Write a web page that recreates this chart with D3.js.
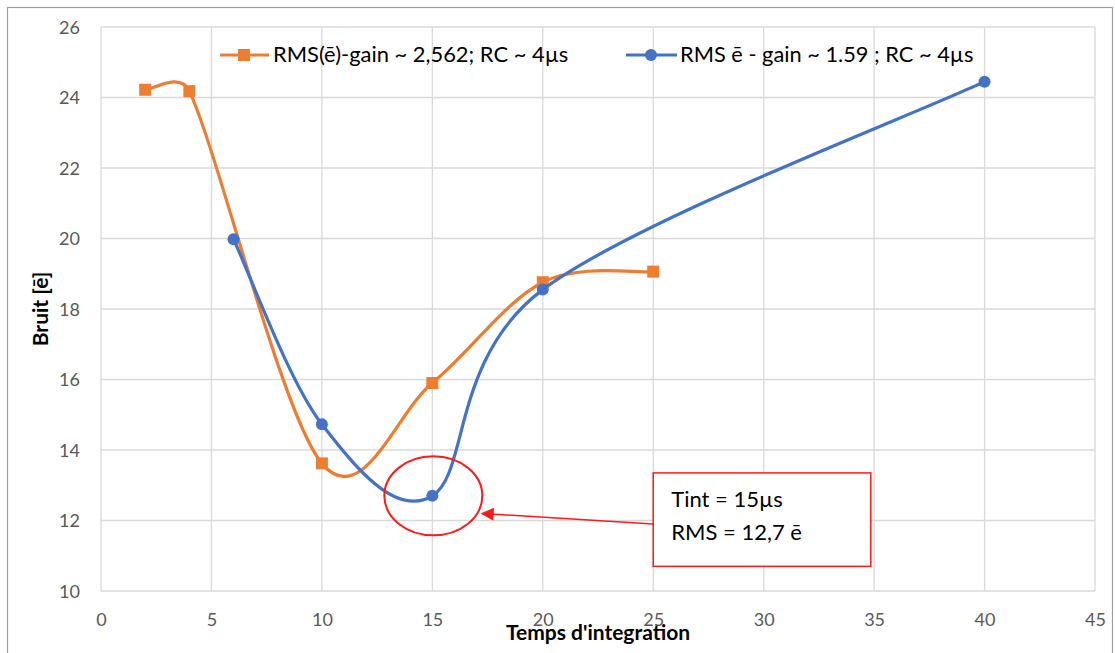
<!DOCTYPE html>
<html><head><meta charset="utf-8">
<script src="https://cdn.jsdelivr.net/npm/d3@7"></script>
<style>body{margin:0;background:#fff;} svg{display:block;font-family:Lato,"Open Sans",sans-serif;}</style>
</head><body>
<svg id="c" width="1115" height="653"></svg>
<script>
const xTicks = [0,5,10,15,20,25,30,35,40,45];
const yTicks = [10,12,14,16,18,20,22,24,26];
const orangeX = [2,4,10,15,20,25];
const orangeY = [24.22,24.18,13.62,15.9,18.76,19.06];
const blueX = [6,10,15,20,40];
const blueY = [19.98,14.73,12.7,18.55,24.45];
const seriesNames = ["RMS(ē)-gain ~ 2,562; RC ~ 4µs","RMS ē - gain ~ 1.59 ; RC ~ 4µs"];
const xTitle = "Temps d'integration";
const yTitle = "Bruit [ē]";
const noteLines = ["Tint = 15µs","RMS = 12,7 ē"];
const notePoint = [15,12.7];
const noteBox = [25,34.85,13.35,10.7];

const svg = d3.select("#c");
const L=101,R=1095,T=27,B=591;
const x = d3.scaleLinear().domain([0,45]).range([L,R]);
const y = d3.scaleLinear().domain([10,26]).range([B,T]);
const ORANGE="#ED7D31", BLUE="#4472C4", GRID="#d9d9d9", TXT="#595959";

svg.append("rect").attr("x",7.5).attr("y",7.5).attr("width",1105).attr("height",700)
  .attr("fill","none").attr("stroke","#a0a0a0").attr("stroke-width",1.2);

svg.append("g").selectAll("line").data(xTicks).join("line")
  .attr("x1",d=>x(d)).attr("x2",d=>x(d)).attr("y1",T).attr("y2",B)
  .attr("stroke",GRID).attr("stroke-width",1.3);
svg.append("g").selectAll("line").data(yTicks).join("line")
  .attr("x1",L).attr("x2",R).attr("y1",d=>y(d)).attr("y2",d=>y(d))
  .attr("stroke",GRID).attr("stroke-width",1.3);

const ax = svg.append("g").attr("transform",`translate(0,${B})`)
  .call(d3.axisBottom(x).tickValues(xTicks).tickSize(0).tickPadding(0));
ax.select(".domain").remove();
ax.selectAll("text").attr("y",35).attr("dy",null).attr("font-size",18).attr("fill",TXT).attr("font-family","Lato");
const ay = svg.append("g").attr("transform",`translate(${L},0)`)
  .call(d3.axisLeft(y).tickValues(yTicks).tickSize(0).tickPadding(21));
ay.select(".domain").remove();
ay.selectAll("text").attr("font-size",18).attr("fill",TXT).attr("font-family","Lato").attr("dy","0.35em");

svg.append("text").attr("x",(L+R)/2).attr("y",640).attr("text-anchor","middle")
  .attr("font-size",21).attr("font-weight","bold").attr("fill","#000").text(xTitle);
svg.append("text").attr("transform",`translate(48,${(T+B)/2}) rotate(-90)`).attr("text-anchor","middle")
  .attr("font-size",21).attr("font-weight","bold").attr("fill","#000").text(yTitle);

// Excel-like smoothing: uniform Catmull-Rom tangents, control arm clamped to half the segment length
function smoothPath(data){
  const p = data.map(d=>[x(d[0]),y(d[1])]);
  const n = p.length;
  const tan = p.map((q,i)=>{
    const a = p[Math.max(0,i-1)], b = p[Math.min(n-1,i+1)];
    return [(b[0]-a[0])/6,(b[1]-a[1])/6];
  });
  const clamp = (v,len)=>{const l=Math.hypot(v[0],v[1]); const m=0.5*len; return l>m?[v[0]*m/l,v[1]*m/l]:v;};
  let s = `M${p[0][0]},${p[0][1]}`;
  for(let i=0;i<n-1;i++){
    const a=p[i], b=p[i+1], seg=Math.hypot(b[0]-a[0],b[1]-a[1]);
    const t0=clamp(tan[i],seg), t1=clamp(tan[i+1],seg);
    s += `C${a[0]+t0[0]},${a[1]+t0[1]} ${b[0]-t1[0]},${b[1]-t1[1]} ${b[0]},${b[1]}`;
  }
  return s;
}
const oData = orangeX.map((v,i)=>[v,orangeY[i]]);
const bData = blueX.map((v,i)=>[v,blueY[i]]);
svg.append("path").attr("d",smoothPath(oData)).attr("fill","none").attr("stroke",ORANGE).attr("stroke-width",3.2);
svg.append("g").selectAll("rect").data(oData).join("rect")
  .attr("x",d=>x(d[0])-6).attr("y",d=>y(d[1])-6).attr("width",12).attr("height",12).attr("fill",ORANGE);
svg.append("path").attr("d",smoothPath(bData)).attr("fill","none").attr("stroke",BLUE).attr("stroke-width",3.2);
svg.append("g").selectAll("circle").data(bData).join("circle")
  .attr("cx",d=>x(d[0])).attr("cy",d=>y(d[1])).attr("r",6).attr("fill",BLUE);

// legend
const lg = svg.append("g");
lg.append("line").attr("x1",220).attr("x2",269).attr("y1",55).attr("y2",55).attr("stroke",ORANGE).attr("stroke-width",3.2);
lg.append("rect").attr("x",238).attr("y",49).attr("width",12).attr("height",12).attr("fill",ORANGE);
lg.append("text").attr("x",273).attr("y",62).attr("font-size",21.9).attr("fill","#000").text(seriesNames[0]);
lg.append("line").attr("x1",626).attr("x2",677).attr("y1",55).attr("y2",55).attr("stroke",BLUE).attr("stroke-width",3.2);
lg.append("circle").attr("cx",651).attr("cy",55).attr("r",6).attr("fill",BLUE);
lg.append("text").attr("x",680).attr("y",62).attr("font-size",21.8).attr("fill","#000").text(seriesNames[1]);

// annotation
const RED="#ff1a1a";
const cx=x(notePoint[0]), cy=y(notePoint[1]);
svg.append("ellipse").attr("cx",cx+1).attr("cy",cy).attr("rx",49).attr("ry",39.5)
  .attr("fill","none").attr("stroke",RED).attr("stroke-width",2);
const bx0=x(noteBox[0]), bx1=x(noteBox[1]), by0=y(noteBox[2]), by1=y(noteBox[3]);
svg.append("rect").attr("x",bx0).attr("y",by0).attr("width",bx1-bx0).attr("height",by1-by0)
  .attr("fill","#fff").attr("stroke",RED).attr("stroke-width",1.5);
svg.append("defs").append("marker").attr("id","ah").attr("viewBox","0 0 10 10").attr("refX",9).attr("refY",5)
  .attr("markerWidth",14).attr("markerHeight",13).attr("markerUnits","userSpaceOnUse").attr("orient","auto")
  .append("path").attr("d","M0,0 L10,5 L0,10 z").attr("fill",RED);
svg.append("line").attr("x1",bx0).attr("y1",524).attr("x2",482).attr("y2",513.5)
  .attr("stroke",RED).attr("stroke-width",1.5).attr("marker-end","url(#ah)");
svg.selectAll("text.note").data(noteLines).join("text").attr("class","note")
  .attr("x",bx0+18).attr("y",(d,i)=>507+i*33).attr("font-size",22).attr("fill","#000").text(d=>d);
</script>
</body></html>
